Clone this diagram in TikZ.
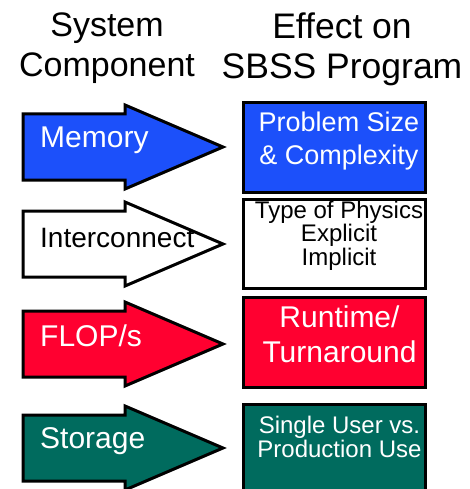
\documentclass[tikz,border=0pt]{standalone}
\usepackage{fontspec}
\setmainfont{Liberation Sans}
\usepackage{tikz}
\usetikzlibrary{positioning}
\definecolor{memblue}{RGB}{28,80,250}
\definecolor{flopred}{RGB}{255,0,48}
\definecolor{storegreen}{RGB}{0,107,94}
\tikzstyle{header}=[inner sep=0pt, anchor=north, align=center, font=\fontsize{34}{40}\selectfont]
\tikzstyle{component}=[inner sep=0pt, anchor=base west, font=\fontsize{30}{36}\selectfont]
\tikzstyle{effect}=[rectangle, draw=black, line width=3pt, minimum width=182pt, minimum height=90pt]
\tikzstyle{effecttext}=[inner sep=0pt, anchor=north, align=center]
% arrow body from x=23, head from x=125, tip at x=223
\newcommand{\comparrow}[2]{%
  \draw[line width=3pt, line join=miter, fill=#2]
    (23,#1-33) -- (125,#1-33) -- (125,#1-42) -- (223,#1) -- (125,#1+42)
    -- (125,#1+33) -- (23,#1+33) -- cycle;}

\begin{document}
\begin{tikzpicture}[x=1pt, y=-1pt]
    \useasboundingbox (0,0) rectangle (470,489);

    \node[header] (syshead) at (107,13) {System\\Component};
    \node[header, font=\fontsize{35.5}{40}\selectfont] (effhead) at (342,13) {Effect on\\SBSS Program};

    \comparrow{147}{memblue}
    \comparrow{244}{white}
    \comparrow{344}{flopred}
    \comparrow{448}{storegreen}

    \node[component, text=white] (memory) at (40,148) {Memory};
    \node[component, font=\fontsize{28}{34}\selectfont] (interconnect) at (40,247) {Interconnect};
    \node[component, text=white] (flops) at (40,346) {FLOP/s};
    \node[component, text=white] (storage) at (40,448) {Storage};

    \node[effect, fill=memblue] (sizebox) at (334.5,147.5) {};
    \node[effect, fill=white, minimum height=89pt] (physicsbox) at (334.5,244) {};
    \node[effect, fill=flopred] (runtimebox) at (334.5,342.5) {};
    \node[effect, fill=storegreen] (usagebox) at (334.5,449.5) {};

    \node[effecttext, text=white, font=\fontsize{27}{33}\selectfont] (size) at (339,111.5)
        {Problem Size\\\& Complexity};
    \node[effecttext, font=\fontsize{24}{23.5}\selectfont] (physics) at (339,200.5)
        {Type of Physics\\Explicit\\Implicit};
    \node[effecttext, text=white, font=\fontsize{30}{35}\selectfont] (runtime) at (339.5,306)
        {Runtime/\\Turnaround};
    \node[effecttext, text=white, font=\fontsize{24}{24}\selectfont] (usage) at (339.5,415.5)
        {Single User vs.\\Production Use};
\end{tikzpicture}
\end{document}
